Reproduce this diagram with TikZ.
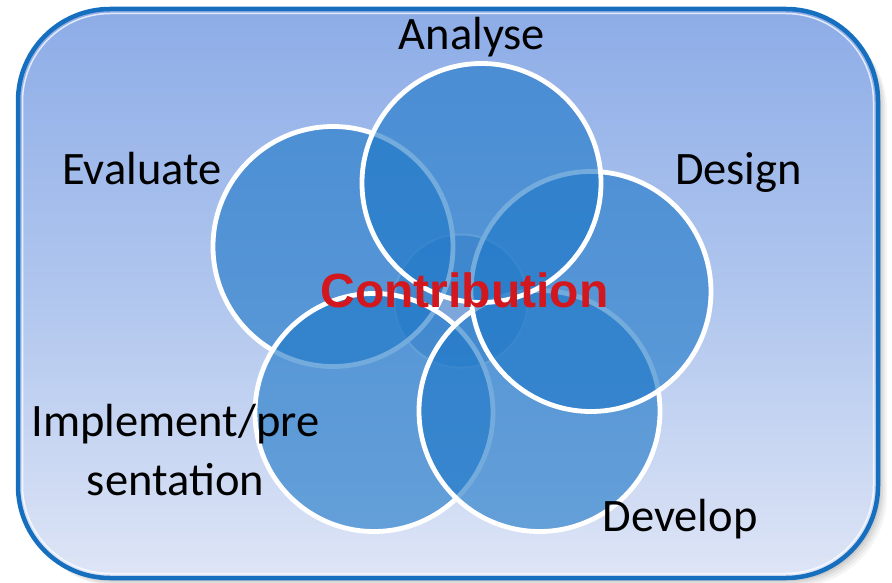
\documentclass[tikz,border=0pt]{standalone}
\usepackage{fontspec}
\setmainfont{Carlito}
\newfontfamily\contribfont{Liberation Sans}
\definecolor{bgtop}{RGB}{141,172,231}
\definecolor{bgmid}{RGB}{176,198,238}
\definecolor{bgbot}{RGB}{222,229,246}
\definecolor{framec}{RGB}{21,110,190}
\definecolor{circblue}{RGB}{30,120,200}
\definecolor{coreblue}{RGB}{27,105,185}
\definecolor{contribred}{RGB}{210,24,30}
\begin{document}
\begin{tikzpicture}[x=1pt,y=-1pt,
  bigc/.style={circle, inner sep=0pt, minimum size=240pt, fill=circblue,
    fill opacity=0.62, draw=white, draw opacity=1, line width=4.8pt},
  corec/.style={circle, inner sep=0pt, minimum size=133pt, fill=coreblue,
    fill opacity=0.35, draw=white, draw opacity=0.55, line width=2pt},
  lbl/.style={font=\fontsize{46.5}{59}\selectfont, text=black, anchor=base, inner sep=0pt},
  contrib/.style={font=\contribfont\bfseries\fontsize{48}{56}\selectfont, text=contribred, anchor=base, inner sep=0pt}]
\useasboundingbox (0,0) rectangle (892,583);
% shadow
\foreach \d/\o in {9/0.04,7/0.05,5/0.06,3/0.08}{
  \fill[black, opacity=\o, rounded corners=92pt] (18+\d,9+\d) rectangle (878+\d,578+\d);
}
% frame
\shade[top color=bgtop, bottom color=bgbot, middle color=bgmid, rounded corners=92pt]
  (18,9) rectangle (878,578);
\draw[white, opacity=0.75, line width=1.5pt, rounded corners=88pt] (22.5,13.5) rectangle (873.5,573.5);
\draw[framec, line width=4.5pt, rounded corners=92pt] (18,9) rectangle (878,578);
% circles
\node[corec] (core) at (461,301) {};
\node[bigc, minimum size=240pt] (evaluate) at (333,246.5) {};
\node[bigc, minimum size=238pt] (implement) at (374,412.5) {};
\node[bigc, minimum size=241pt] (develop) at (539.5,411) {};
\node[bigc, minimum size=240pt] (design) at (591,291.5) {};
\node[bigc, minimum size=239pt] (analyse) at (481.5,183) {};
% labels
\node[lbl] (tanalyse) at (472,50) {Analyse};
\node[lbl] (tdesign) at (738.5,185) {Design};
\node[lbl] (tevaluate) at (142,185) {Evaluate};
\node[lbl, align=center] (timplement) at (175.5,495) {Implement/pre\\sentation};
\node[lbl] (tdevelop) at (680,531) {Develop};
\node[contrib] (tcontrib) at (464.5,307) {Contribution};
\end{tikzpicture}
\end{document}
